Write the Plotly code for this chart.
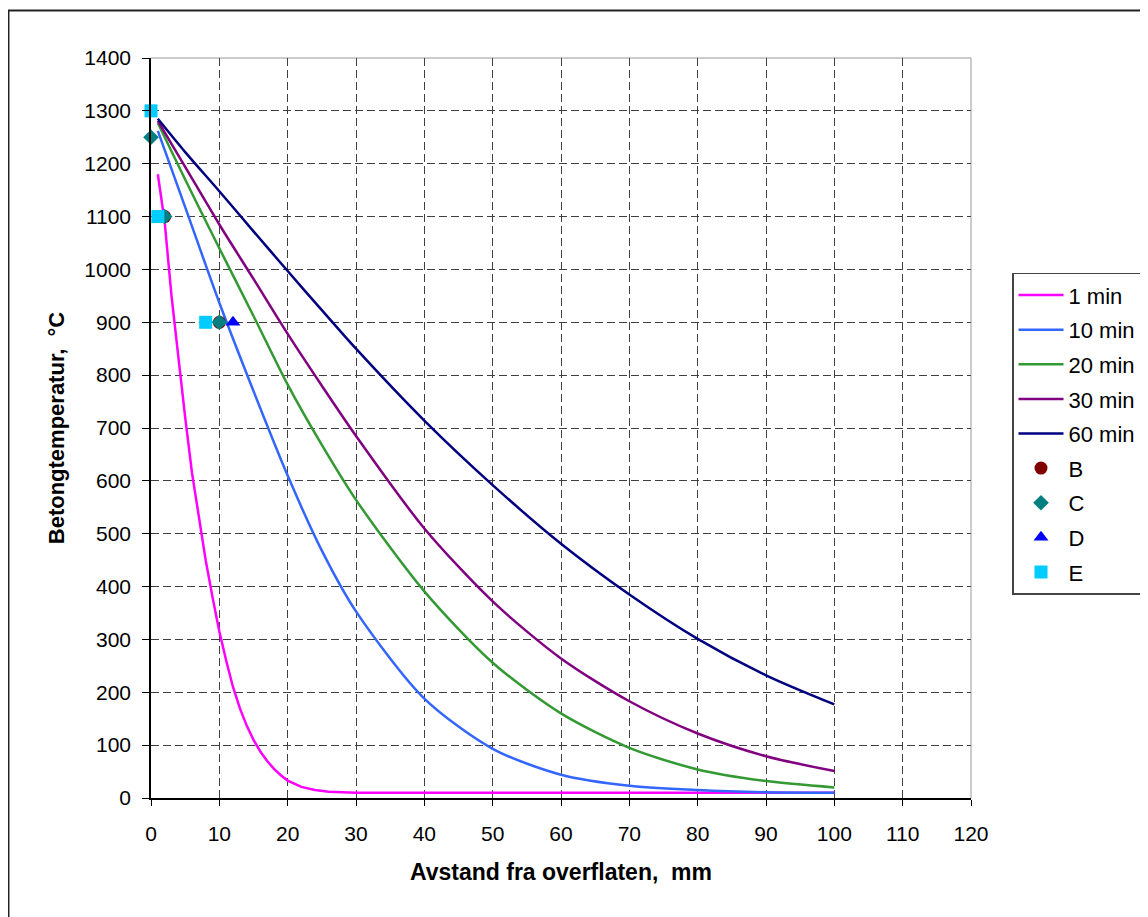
import plotly.graph_objects as go

# ---- data ----
x_1min = [1, 2, 3, 4, 5, 6, 7, 8, 9, 10, 11, 12, 13, 14, 15, 16, 17, 18, 19, 20,
          22, 24, 26, 28, 30, 40, 50, 60, 70, 80, 90, 100]
y_1min = [1180, 1090, 950, 830, 720, 615, 530, 450, 380, 315, 260, 210, 170, 137, 110, 88, 70, 55, 43, 33,
          21, 15, 12, 11, 10, 10, 10, 10, 10, 10, 10, 10]

x_curve = [1, 5, 10, 15, 20, 25, 30, 40, 50, 60, 70, 80, 90, 100]
y_10min = [1262, 1118, 937, 770, 610, 468, 353, 188, 93, 44, 23, 15, 11, 10]
y_20min = [1277, 1170, 1040, 912, 782, 668, 564, 391, 256, 160, 95, 54, 32, 20]
y_30min = [1281, 1194, 1085, 982, 878, 780, 685, 510, 372, 264, 183, 122, 79, 51]
y_60min = [1285, 1222, 1148, 1072, 997, 923, 850, 714, 592, 481, 385, 301, 232, 177]

x_B = [2, 10]
y_B = [1100, 900]
x_C = [0, 2, 10]
y_C = [1250, 1100, 900]
x_D = [12]
y_D = [900]
x_E = [0, 1, 8]
y_E = [1300, 1100, 900]

x_ticks = [0, 10, 20, 30, 40, 50, 60, 70, 80, 90, 100, 110, 120]
y_ticks = [0, 100, 200, 300, 400, 500, 600, 700, 800, 900, 1000, 1100, 1200, 1300, 1400]

FONT = "Liberation Sans, Arial, sans-serif"

fig = go.Figure()

curves = [
    ("1 min", x_1min, y_1min, "#FF00FF", "linear"),
    ("10 min", x_curve, y_10min, "#3366FF", "spline"),
    ("20 min", x_curve, y_20min, "#339933", "spline"),
    ("30 min", x_curve, y_30min, "#800080", "spline"),
    ("60 min", x_curve, y_60min, "#000080", "spline"),
]
for name, xs, ys, col, shape in curves:
    fig.add_trace(go.Scatter(
        x=xs, y=ys, name=name, mode="lines", legendgroup=name,
        line=dict(color=col, width=2.5, shape=shape, smoothing=0.8),
    ))

points = [
    ("B", x_B, y_B, "#800000", "circle", 13),
    ("C", x_C, y_C, "#008080", "diamond", 12),
    ("D", x_D, y_D, "#0000FF", "triangle-up", 13),
    ("E", x_E, y_E, "#00CCFF", "square", 13),
]
for name, xs, ys, col, sym, sz in points:
    fig.add_trace(go.Scatter(
        x=xs, y=ys, name=name, mode="markers", legendgroup=name, cliponaxis=False,
        marker=dict(color=col, symbol=sym, size=sz, line=dict(width=0)),
    ))

grid_col = "#404040"
fig.update_xaxes(
    range=[0, 120], tickvals=x_ticks, ticktext=[str(v) for v in x_ticks],
    showgrid=True, gridcolor=grid_col, gridwidth=1, griddash="8px,4px",
    showline=True, linecolor="black", linewidth=1.5,
    ticks="outside", ticklen=6, tickcolor="black", tickwidth=1,
    tickfont=dict(family=FONT, size=21, color="black"),
    ticklabelstandoff=10,
    zeroline=False,
    title=dict(text="<b>Avstand fra overflaten,&nbsp; mm</b>", standoff=20,
               font=dict(family=FONT, size=23, color="black")),
)
fig.update_yaxes(
    range=[0, 1400], tickvals=y_ticks, ticktext=[str(v) for v in y_ticks],
    showgrid=True, gridcolor=grid_col, gridwidth=1, griddash="8px,4px",
    showline=True, linecolor="black", linewidth=1.5,
    ticks="outside", ticklen=7, tickcolor="black", tickwidth=1,
    tickfont=dict(family=FONT, size=21, color="black"),
    ticklabelstandoff=7,
    zeroline=False,
    title=dict(text="<b>Betongtemperatur,&nbsp; °C</b>", standoff=14,
               font=dict(family=FONT, size=22, color="black")),
)

fig.update_layout(
    width=1148, height=917,
    margin=dict(l=143, r=185, t=50, b=127, autoexpand=False),
    paper_bgcolor="white", plot_bgcolor="white",
    font=dict(family=FONT, size=21, color="black"),
    showlegend=True,
    legend=dict(
        x=1.05, y=0.7097, xanchor="left", yanchor="top",
        bgcolor="white", bordercolor="#444444", borderwidth=1.5,
        font=dict(family=FONT, size=22, color="black"),
        traceorder="grouped", tracegroupgap=3, itemwidth=45,
    ),
    shapes=[
        # outer chart frame (partly outside the window)
        dict(type="rect", xref="paper", yref="paper",
             x0=-0.1738, x1=1.5, y0=-0.5, y1=1.0641,
             line=dict(color="#222222", width=2), layer="below"),
        # plot-area top/right light border
        dict(type="line", xref="paper", yref="paper", x0=0, x1=1, y0=1, y1=1,
             line=dict(color="#999999", width=1), layer="below"),
        dict(type="line", xref="paper", yref="paper", x0=1, x1=1, y0=0, y1=1,
             line=dict(color="#999999", width=1), layer="below"),
    ],
)

fig.write_html("out.html")
